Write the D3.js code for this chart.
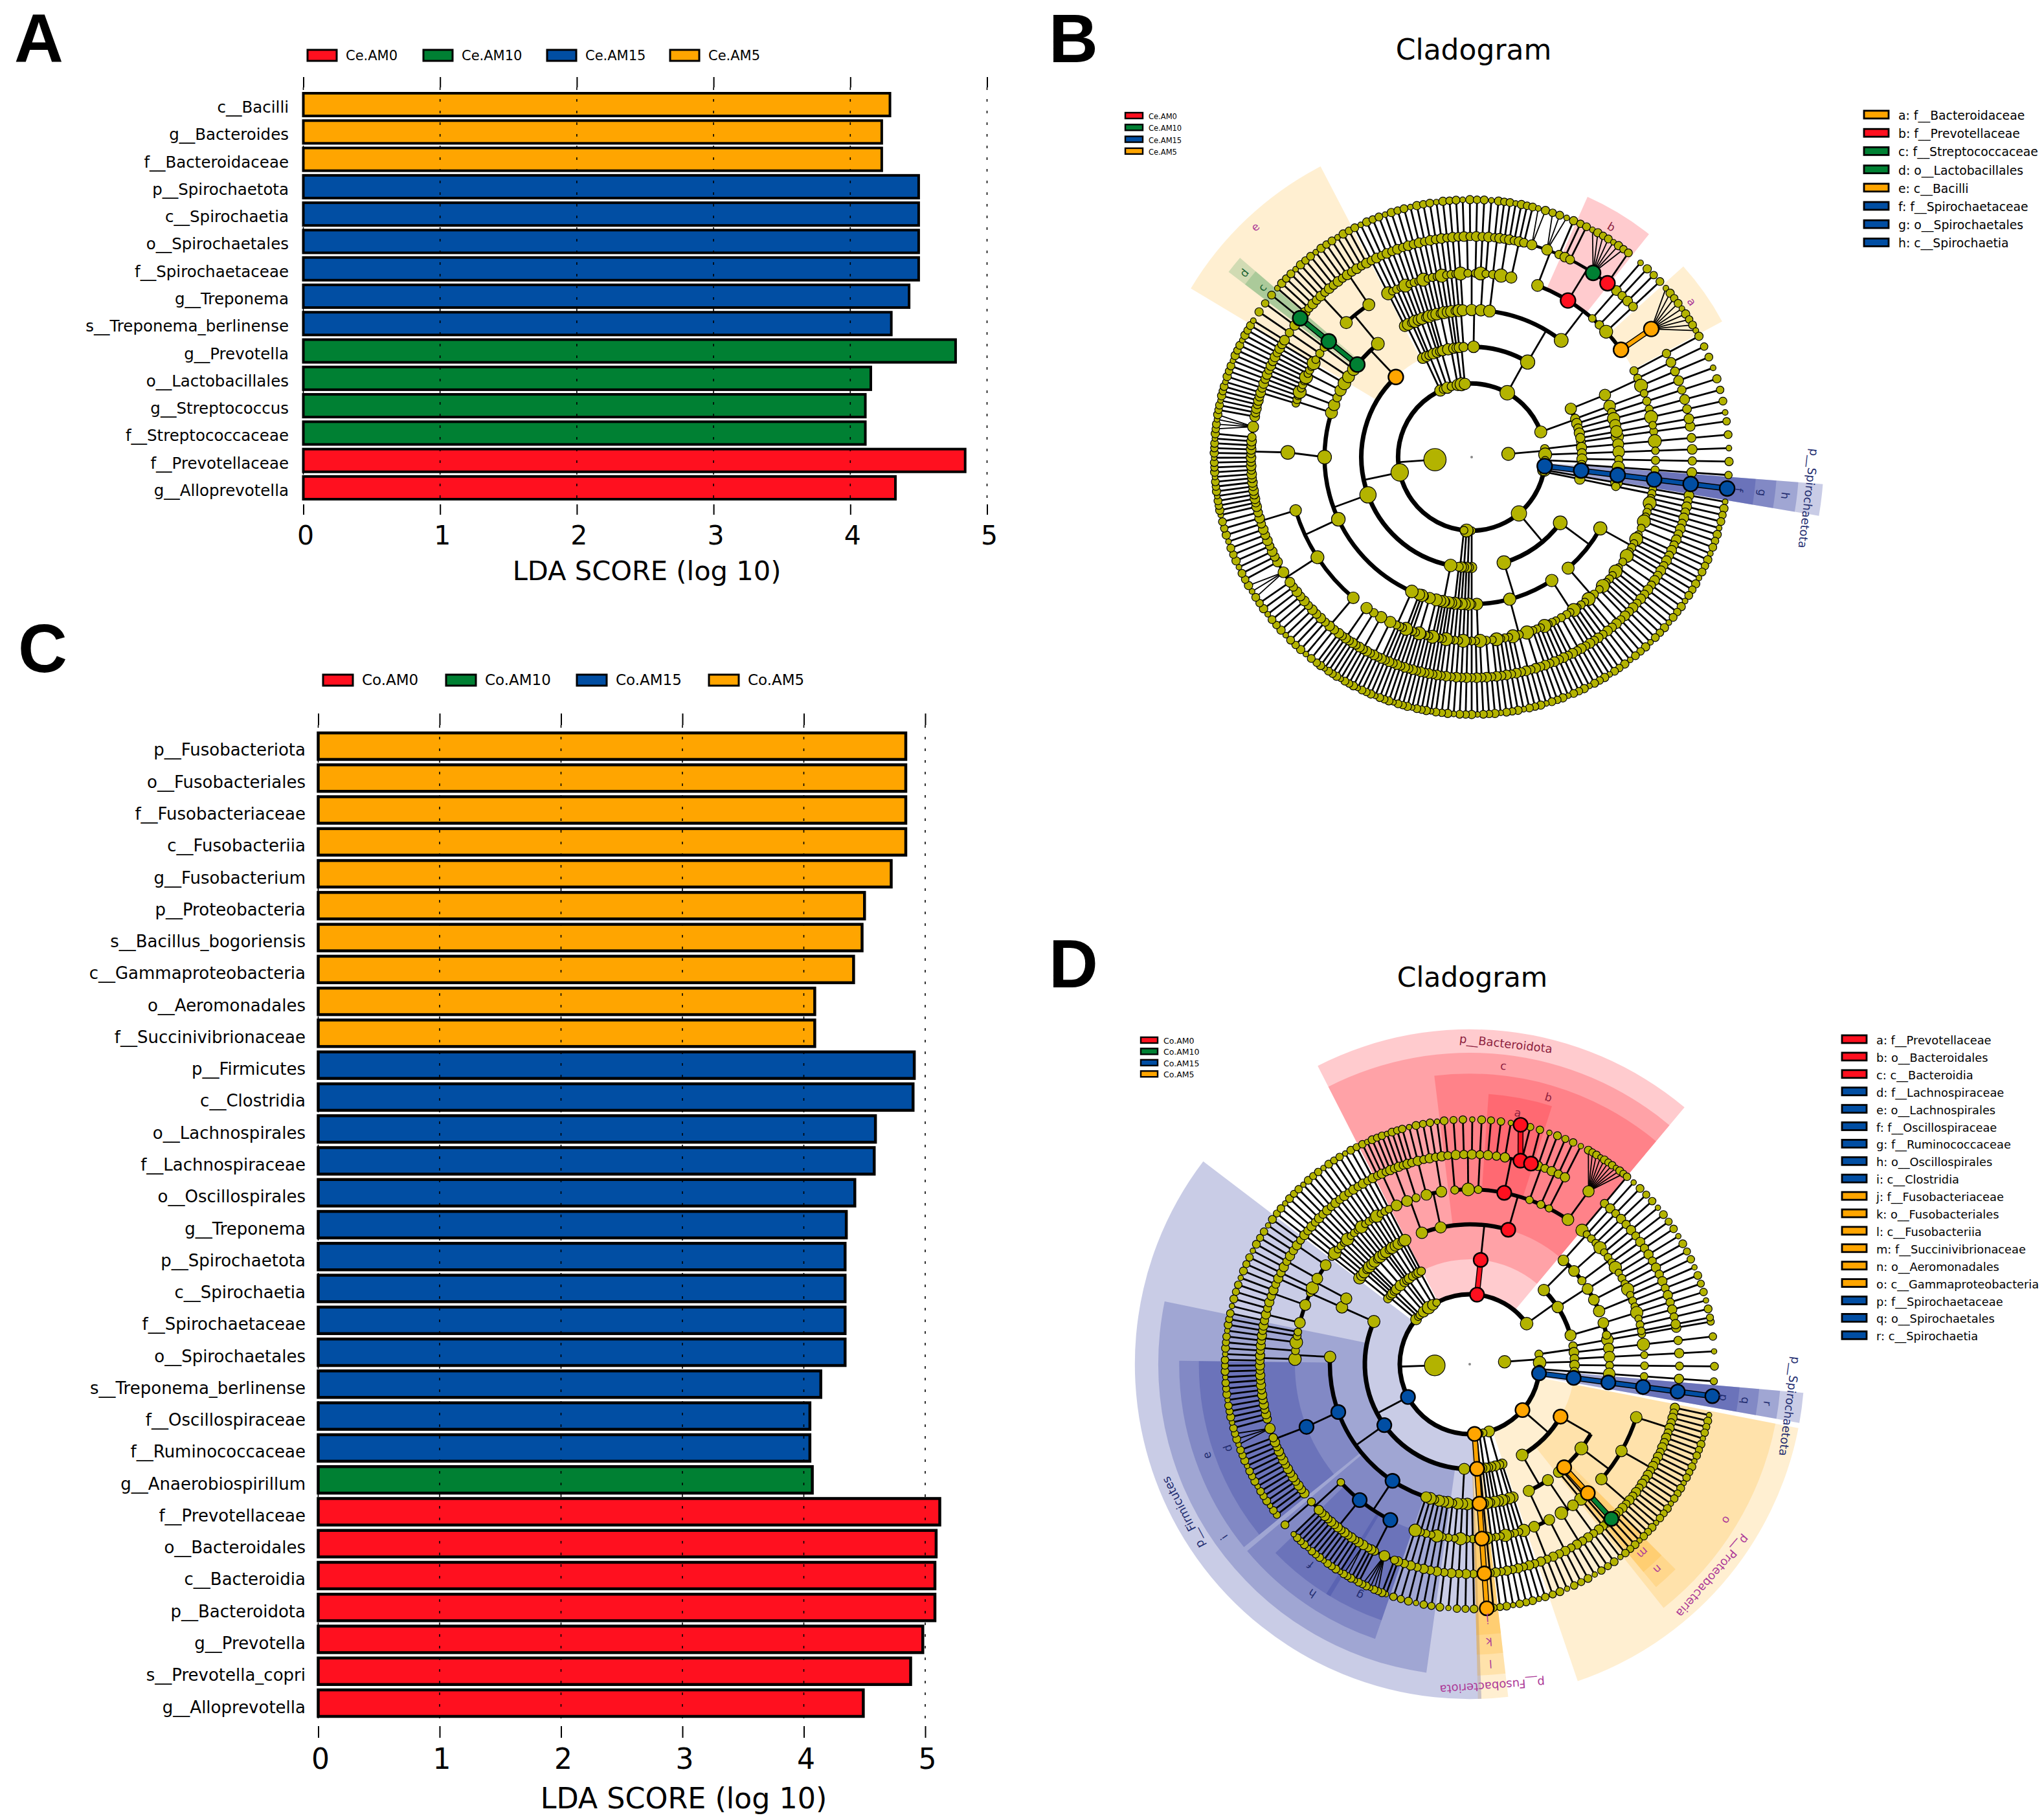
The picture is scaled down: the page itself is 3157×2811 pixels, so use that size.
<!DOCTYPE html>
<html><head><meta charset="utf-8"><style>html,body{margin:0;background:#fff}svg{display:block}text{font-family:"DejaVu Sans";fill:#000}</style>
<script src="https://cdn.jsdelivr.net/npm/d3@7"></script></head><body><svg id="c" width="3157" height="2811"></svg>
<script>
const colours={r:"#ff101f",g:"#008033",b:"#014ea3",o:"#ffa500"};
const wedgeColours={r:"#ff1020",g:"#00802f",b:"#28329a",o:"#ffa500"};
const wedgeAlpha={r:.22,g:.18,b:.25,o:.18};
const labelColours={r:"#8e1f3f",g:"#17602f",b:"#232d70",o:"#ad3a98"};
const ticks=[0,1,2,3,4,5];

const catsA=["c__Bacilli","g__Bacteroides","f__Bacteroidaceae","p__Spirochaetota","c__Spirochaetia","o__Spirochaetales","f__Spirochaetaceae","g__Treponema","s__Treponema_berlinense","g__Prevotella","o__Lactobacillales","g__Streptococcus","f__Streptococcaceae","f__Prevotellaceae","g__Alloprevotella"];
const valsA=[4.29,4.23,4.23,4.50,4.50,4.50,4.50,4.43,4.30,4.77,4.15,4.11,4.11,4.84,4.33];
const groupA=["o","o","o","b","b","b","b","b","b","g","g","g","g","r","r"];
const legendA=[["r","Ce.AM0"],["g","Ce.AM10"],["b","Ce.AM15"],["o","Ce.AM5"]];

const catsC=["p__Fusobacteriota","o__Fusobacteriales","f__Fusobacteriaceae","c__Fusobacteriia","g__Fusobacterium","p__Proteobacteria","s__Bacillus_bogoriensis","c__Gammaproteobacteria","o__Aeromonadales","f__Succinivibrionaceae","p__Firmicutes","c__Clostridia","o__Lachnospirales","f__Lachnospiraceae","o__Oscillospirales","g__Treponema","p__Spirochaetota","c__Spirochaetia","f__Spirochaetaceae","o__Spirochaetales","s__Treponema_berlinense","f__Oscillospiraceae","f__Ruminococcaceae","g__Anaerobiospirillum","f__Prevotellaceae","o__Bacteroidales","c__Bacteroidia","p__Bacteroidota","g__Prevotella","s__Prevotella_copri","g__Alloprevotella"];
const valsC=[4.84,4.84,4.84,4.84,4.72,4.50,4.48,4.41,4.09,4.09,4.91,4.90,4.59,4.58,4.42,4.35,4.34,4.34,4.34,4.34,4.14,4.05,4.05,4.07,5.12,5.09,5.08,5.08,4.98,4.88,4.49];
const groupC=["o","o","o","o","o","o","o","o","o","o","b","b","b","b","b","b","b","b","b","b","b","b","b","g","r","r","r","r","r","r","r"];
const legendC=[["r","Co.AM0"],["g","Co.AM10"],["b","Co.AM15"],["o","Co.AM5"]];

const keyB=[["o","a: f__Bacteroidaceae"],["r","b: f__Prevotellaceae"],["g","c: f__Streptococcaceae"],["g","d: o__Lactobacillales"],["o","e: c__Bacilli"],["b","f: f__Spirochaetaceae"],["b","g: o__Spirochaetales"],["b","h: c__Spirochaetia"]];
const keyD=[["r","a: f__Prevotellaceae"],["r","b: o__Bacteroidales"],["r","c: c__Bacteroidia"],["b","d: f__Lachnospiraceae"],["b","e: o__Lachnospirales"],["b","f: f__Oscillospiraceae"],["b","g: f__Ruminococcaceae"],["b","h: o__Oscillospirales"],["b","i: c__Clostridia"],["o","j: f__Fusobacteriaceae"],["o","k: o__Fusobacteriales"],["o","l: c__Fusobacteriia"],["o","m: f__Succinivibrionaceae"],["o","n: o__Aeromonadales"],["o","o: c__Gammaproteobacteria"],["b","p: f__Spirochaetaceae"],["b","q: o__Spirochaetales"],["b","r: c__Spirochaetia"]];

// Taxonomic trees, clockwise. number k = k plain chains; "@a" = next leaf sits at angle a (deg);
// "^a" = node angle; "c:label" = highlighted node.
const cladeB=[
 ["@-8","^-5",[2],1,[2]],
 ["@7","^176",
  ["b:p__Spirochaetota",["b:h",["b:g",["b:f",["b",["b"]]]]]],
  "@10",1,1,
  ["@13","^50",
   ["^36.6",["^29",6,[2],6,[2],4],["^49",3,[2],3]],
   ["@55","^73",["^57",4,[2],4],["^75",3,[2],[2],3],["^88",3,[2],2]]],
  "@90",1,[2],1,[2],
  ["@98","^168",
   ["^101",5,[2],[3],3],
   ["^160",
    ["@112","^114",3,[3],[3],[2],[3]],
    ["@127","^155",[5],[8,[3],6],[4]],
    ["@167","^180",[18,[4],6]],
    "@197",[2],[3],[2],[3],[2]],
   ["o:e","^226.6","@212",[2],1,"@219",["g:d",["g:c",["g"]]],
    "@221",["^230.4",["^227",4,4],["^236",4,3]]]],
  "@243",[[2],1],1,[[2],1],[2],[[3],1],1,[1,[2]],
  ["@268","^299",
   ["^271",[[2],1],[2]],
   ["^300.5",
    ["@276","^277",[2],[2],[3]],
    ["^307.5",
     ["@285","^291",[2],[3],1],
     ["r:b","^301.6","@295",1,1,"@298",["g","^303.4",7],"@307.5",["r","^308"]],
     "@311",1,[2],1,
     ["o:a","^324.3","@319",["o","^324.5",9]]]]],
  ["@332","^340",["^334",["^335",3]],5],
  "@350"]
];
const cladeD=[
 ["@-10","^-4",[2],[2],1],
 ["@7.5","^178",
  ["b:p__Spirochaetota",["b:r",["b:q",["b:p",["b",["b"]]]]]],
  ["@12","o:p__Proteobacteria","^41",
   ["o:o","^30",["^37",[9],[8],[8]],"@47.5",["o:n","^47.5",["o:m",["g"]]],"@49",2],
   ["@52","^60",["^56",[3],[2]],["^65",[3],[3]]]],
  "@72",[2,[2]],[2],[1,1],1,
  ["@86","o:p__Fusobacteriota",["o:l",["o:k",["o:j",["o",["o"]]]]]],
  ["@89","b:p__Firmicutes","^152",
   ["^93",5],
   ["@99","b:i","^144.5",6,
    ["@110","b:h","^123.5",
     ["b:g","^117",2,[5],3,[2]],
     ["@122","b:f","^129",12],
     "@136",[2]],
    ["@142","b:e","^160",["b:d","^159",14,[3],12]],
    ["@181","^183",[2],[2],[2],2]],
   ["@192","^204",["^204",[3],[4],2],["^208",[3],[3]]]],
  "@218",[[2],1],1,[2],[[3]],1,[2],[[2],1],[2],
  ["@244","r:p__Bacteroidota","^276",
   ["r:c","^276",
    ["^250",[3],[3],[2]],
    ["@254","^258",[3],[3]],
    ["@264","r:b","^286",[2],[2],1,
     ["@275","r:a","^281.4",3,["r","^284",["r"]],1,["r","^287"]],
     "@289",[2],[2],1,
     ["@299","^304.2",["^304.5",10]]]]],
  ["@310","^324.5",["^315",[3],[3],[2]],["^327",[2],[3],[2]],["^344",[3],[2]]],
  "@349"]
];
const dotScale=[1,.78,1.14,.86,1.26,.82,1,.74,1.2,.9,.8,1.08];

const svg=d3.select("#c");
const txt=(g,x,y,s,size,anchor,fill)=>g.append("text").attr("x",x).attr("y",y).attr("font-size",size).attr("text-anchor",anchor||"start").attr("fill",fill||"#000").text(s);

function bars(o){
 const g=svg.append("g");
 const x=d3.scaleLinear().domain([0,5]).range(o.xr);
 const y=d3.scaleBand().domain(o.cats).range(o.yr).paddingInner(o.pad);
 g.selectAll("rect.bar").data(o.cats).join("rect").attr("class","bar").attr("x",x(0)).attr("y",d=>y(d)).attr("height",y.bandwidth())
  .attr("width",(d,i)=>x(o.vals[i])-x(0)).attr("fill",(d,i)=>colours[o.groups[i]]).attr("stroke","#000").attr("stroke-width",o.sw);
 g.selectAll("line.grid").data(ticks).join("line").attr("x1",x).attr("x2",x).attr("y1",o.top+o.tl).attr("y2",o.bot-o.tl).attr("stroke","#000").attr("stroke-width",1.6).attr("stroke-dasharray","4 14");
 const top=g.append("g").attr("transform",`translate(0,${o.top+o.tl})`).call(d3.axisTop(x).tickValues(ticks).tickSize(o.tl).tickFormat(""));
 const bot=g.append("g").attr("transform",`translate(0,${o.bot-o.tl})`).call(d3.axisBottom(x).tickValues(ticks).tickSize(o.tl).tickPadding(o.tp).tickFormat(d3.format("d")));
 [top,bot].forEach(a=>{a.select(".domain").remove();a.selectAll("line").attr("stroke","#000").attr("stroke-width",2)});
 bot.selectAll("text").attr("font-size",o.fs).attr("fill","#000").attr("font-family","DejaVu Sans").attr("dx",3);
 g.selectAll("text.cat").data(o.cats).join("text").attr("class","cat").attr("x",o.lx).attr("y",d=>y(d)+y.bandwidth()/2+o.ldy).attr("font-size",o.lf).attr("text-anchor","end").text(d=>d);
 txt(g,o.xlx,o.xly,"LDA SCORE (log 10)",o.xlf,"middle");
 o.leg.forEach((l,i)=>{
  g.append("rect").attr("x",o.legx[i]).attr("y",o.legy).attr("width",o.legw).attr("height",o.legh).attr("fill",colours[l[0]]).attr("stroke","#000").attr("stroke-width",3);
  txt(g,o.legx[i]+o.legw+14,o.legy+o.legh-1,l[1],o.legf);
 });
}
bars({cats:catsA,vals:valsA,groups:groupA,xr:[468.5,1524.5],yr:[144,771],pad:.17,sw:4,top:119,bot:795,tl:16,tp:17,fs:41,lx:446,ldy:12.5,lf:24.5,xlx:999,xly:896,xlf:41.6,leg:legendA,legx:[475,654,845,1035],legy:77,legw:45,legh:17,legf:21});
bars({cats:catsC,vals:valsC,groups:groupC,xr:[491.5,1429],yr:[1132,2651],pad:.169,sw:4.5,top:1102,bot:2684,tl:18,tp:17,fs:44,lx:472,ldy:15,lf:26,xlx:1056,xly:2793,xlf:44.4,leg:legendC,legx:[499,689,891,1095],legy:1042,legw:46,legh:17,legf:23});

function clade(o){
 const g=svg.append("g").attr("transform",`translate(${o.cx},${o.cy})`);
 const anchorsI=[],anchorsA=[];let leaf=0,pending=null;
 const parse=(items,depth)=>{
  const n={depth,children:[]};
  const kids=Array.isArray(items)?items:[];
  kids.forEach(t=>{
   if(typeof t==="string"){
    if(t[0]==="@")pending=+t.slice(1);
    else if(t[0]==="^")n.ov=+t.slice(1);
    else{const p=t.split(":");n.col=p[0];n.lab=p[1]}
   }else if(typeof t==="number"){for(let k=0;k<t;k++)n.children.push(parse([],depth+1))}
   else n.children.push(parse(t,depth+1));
  });
  if(!n.children.length&&depth<7)n.children.push(parse([],depth+1));
  if(!n.children.length){if(pending!==null){anchorsI.push(leaf);anchorsA.push(pending);pending=null}n.leaf=leaf++}
  return n;
 };
 const rootData={depth:0,children:o.tree.map(t=>parse(t,1))};
 if(pending!==null){anchorsI.push(leaf-1);anchorsA.push(pending)}
 const ang=d3.scaleLinear().domain(anchorsI).range(anchorsA);
 const root=d3.hierarchy(rootData);
 root.eachAfter(d=>{
  const k=d.children;
  if(!k)d.a=ang(d.data.leaf);
  else d.a=d.data.ov!==undefined?d.data.ov:(k[0].a+k[k.length-1].a)/2;
  d.n=k?d3.sum(k,c=>c.n):1;
  d.lo=k?k[0].lo:d.a;d.hi=k?k[k.length-1].hi:d.a;
 });
 const rad=d3.scaleLinear().domain([0,7]).range([0,7*o.step]);
 const toRad=a=>(a+90)*Math.PI/180;
 const pt=(a,r)=>d3.pointRadial(toRad(a),r);
 const k=o.step/56.8;
 const bandOuter={2:544*k,3:506*k,4:472*k,5:440*k},bandLabel={2:524*k,3:488*k,4:452*k,5:416*k};
 const nodes=root.descendants();
 const marked=nodes.filter(d=>d.data.lab).sort((a,b)=>a.depth-b.depth);
 const arcGen=d3.arc();
 const padOf=d=>d.hi-d.lo<1?(d.data.col==="g"?1.7:2.6):1;
 g.selectAll("path.w").data(marked).join("path").attr("class","w").attr("d",d=>arcGen({innerRadius:rad(d.depth),outerRadius:bandOuter[d.depth],startAngle:toRad(d.lo-padOf(d)),endAngle:toRad(d.hi+padOf(d))}))
  .attr("fill",d=>wedgeColours[d.data.col]).attr("fill-opacity",d=>wedgeAlpha[d.data.col]);
 const lineG=g.append("g").attr("stroke","#000").attr("fill","none");
 const hiG=g.append("g").attr("fill","none");
 const arcW={2:7,3:7,4:6.5,5:6,6:4.5};
 const seg=(p,a,b,w,c)=>p.append("line").attr("x1",a[0]).attr("y1",a[1]).attr("x2",b[0]).attr("y2",b[1]).attr("stroke-width",w).attr("stroke",c||"#000");
 nodes.filter(d=>d.children&&d.depth>0).forEach(d=>{
  const r0=rad(d.depth),r1=rad(d.depth+1),ks=d.children;
  if(d.depth===6&&ks.length>1){ks.forEach(c=>seg(lineG,pt(d.a,r0),pt(c.a,r1),1.8));return}
  if(ks.length>1){
   const lo=Math.min(ks[0].a,d.a),hi=Math.max(ks[ks.length-1].a,d.a);
   lineG.append("path").attr("d",d3.arc()({innerRadius:r1,outerRadius:r1,startAngle:toRad(lo),endAngle:toRad(hi)})).attr("stroke-width",arcW[d.depth+1]);
   seg(lineG,pt(d.a,r0),pt(d.a,r1),2.8);
  }else{
   seg(lineG,pt(d.a,r0),pt(ks[0].a,r1),2.8);
   if(d.data.col&&ks[0].data.col&&(d.depth>=5||d.depth===2||d.hi-d.lo<1)){
    seg(hiG,pt(d.a,r0),pt(ks[0].a,r1),9);
    seg(hiG,pt(d.a,r0),pt(ks[0].a,r1),6,colours[ks[0].data.col]);
   }
  }
 });
 const base={1:9,2:8,3:8,4:8,5:8,6:7.6,7:5.4};
 const bonus=d3.scaleSqrt().domain([1,150]).range([0,6]);
 const dots=nodes.filter(d=>d.depth>0).sort((a,b)=>(a.data.col?1:0)-(b.data.col?1:0));
 g.selectAll("circle.n").data(dots).join("circle").attr("class","n")
  .attr("cx",d=>pt(d.a,rad(d.depth))[0]).attr("cy",d=>pt(d.a,rad(d.depth))[1])
  .attr("r",d=>{
    if(d.data.col)return 11.5*k;
    const s=d.n>2?1.05:dotScale[(d.leaves()[0].data.leaf*3+d.depth*5)%dotScale.length];
    return (base[d.depth]*s+bonus(d.n))*k;
  })
  .attr("fill",d=>d.data.col?colours[d.data.col]:"#b3b300").attr("stroke","#000").attr("stroke-width",d=>d.data.col?2.4:1.2);
 g.append("circle").attr("r",2).attr("fill","#888");
 g.selectAll("text.l").data(marked).join("text").attr("class","l").attr("font-size",d=>d.depth===2?18:17).attr("text-anchor","middle").attr("dy",".35em")
  .attr("transform",d=>{const m=(d.lo+d.hi)/2,p=pt(m,bandLabel[d.depth]);return `translate(${p[0]},${p[1]}) rotate(${m+90})`})
  .style("fill",d=>labelColours[d.data.col]).text(d=>d.data.lab);
 txt(svg,o.tx,o.ty,"Cladogram",o.tf,"middle");
 o.small.forEach((l,i)=>{
  svg.append("rect").attr("x",o.sx).attr("y",o.sy+i*o.sp).attr("width",o.sw).attr("height",9).attr("fill",colours[l[0]]).attr("stroke","#000").attr("stroke-width",2.4);
  txt(svg,o.sx+o.sw+9,o.sy+i*o.sp+10,l[1],o.sf);
 });
 o.key.forEach((l,i)=>{
  svg.append("rect").attr("x",o.kx).attr("y",o.ky+i*o.kp).attr("width",38).attr("height",12).attr("fill",colours[l[0]]).attr("stroke","#000").attr("stroke-width",2.8);
  txt(svg,o.kx+53,o.ky+i*o.kp+14,l[1],o.kf);
 });
}
clade({tree:cladeB,cx:2273,cy:706,step:56.8,tx:2276,ty:92,tf:44,small:legendA,sx:1738,sy:174,sp:18.3,sw:27,sf:11.5,key:keyB,kx:2879,ky:171,kp:28.2,kf:18.8});
clade({tree:cladeD,cx:2270,cy:2107,step:54,tx:2274,ty:1524,tf:42.5,small:legendC,sx:1762,sy:1602,sp:17.4,sw:26,sf:12.5,key:keyD,kx:2845,ky:1599,kp:26.9,kf:17.8});
[["A",22,96],["B",1620,96],["C",28,1038],["D",1620,1525]].forEach(l=>svg.append("text").attr("x",l[1]).attr("y",l[2]).attr("font-size",105).attr("font-weight",700).style("font-family","Liberation Sans").text(l[0]));
</script></body></html>
